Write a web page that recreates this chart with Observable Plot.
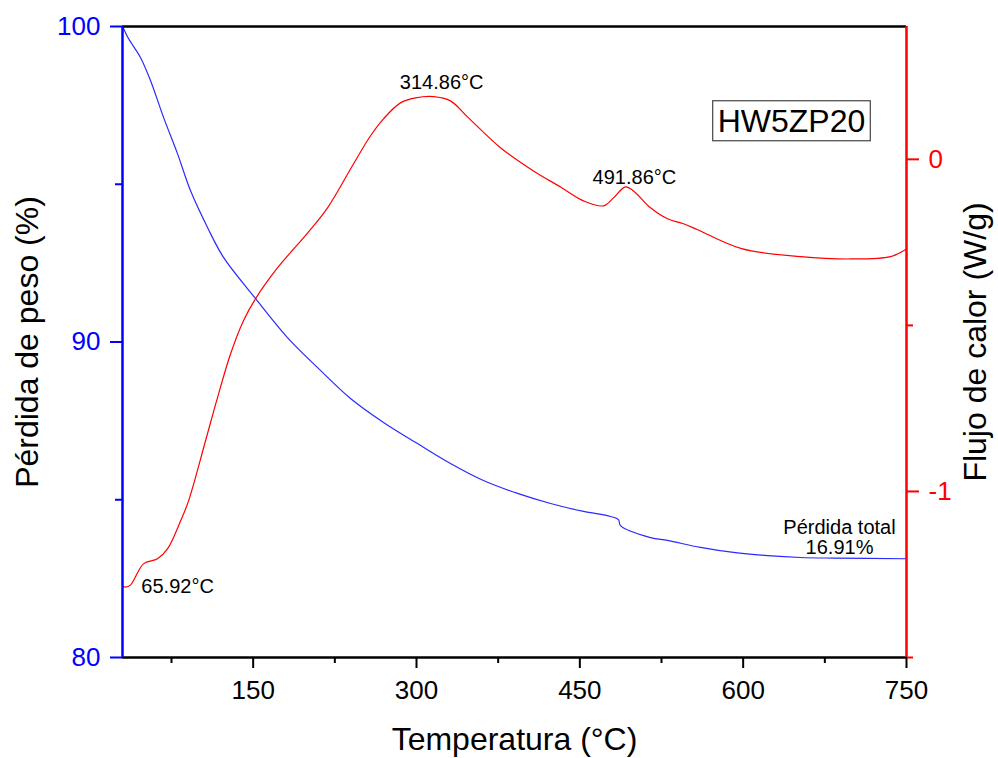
<!DOCTYPE html>
<html><head><meta charset="utf-8">
<script src="https://cdn.jsdelivr.net/npm/d3@7"></script>
<script src="https://cdn.jsdelivr.net/npm/@observablehq/plot@0.6"></script>
<style>
body{margin:0;background:#fff;font-family:"Liberation Sans",Arial,sans-serif;}
#chart{position:relative;width:998px;height:758px;}
</style></head><body><div id="chart"></div>
<script>
// TGA: weight (%) vs temperature (°C)
const tgaTemp = [30, 30.9, 35.5, 46.5, 55.7, 67.7, 80.5, 92.4, 108.1, 122.8, 152.1, 181.5, 211.8, 239.4, 269.7, 300.9, 331.2, 361.5, 392.8, 423.1, 453.4, 478.2, 485.5, 487.3, 514.9, 530.5, 560.8, 591.1, 622.3, 652.7, 683, 750];
const tgaWeight = [100, 99.94, 99.62, 99.02, 98.29, 97.12, 95.97, 94.80, 93.63, 92.68, 91.38, 90.14, 89.10, 88.21, 87.45, 86.78, 86.15, 85.61, 85.20, 84.88, 84.63, 84.47, 84.37, 84.18, 83.80, 83.71, 83.49, 83.33, 83.23, 83.17, 83.15, 83.13];
// DSC: heat flow (W/g) vs temperature (°C)
const dscTemp = [30, 32.8, 37.3, 49.3, 62.1, 71.3, 83.3, 90.6, 106.2, 117.2, 129.2, 141.1, 152.1, 172.3, 199.9, 218.3, 242.1, 257.8, 269.7, 285.3, 299.1, 315.6, 331.2, 346.8, 377.1, 407.4, 432.2, 453.4, 471.7, 480.9, 491.9, 499.3, 514.9, 530.5, 545.2, 558.1, 598.5, 652.7, 698.6, 735.3, 750];
const dscFlow = [-1.285, -1.288, -1.282, -1.218, -1.203, -1.173, -1.089, -1.029, -0.848, -0.718, -0.586, -0.486, -0.420, -0.327, -0.222, -0.146, -0.014, 0.071, 0.122, 0.170, 0.185, 0.189, 0.176, 0.128, 0.035, -0.035, -0.083, -0.125, -0.140, -0.116, -0.083, -0.095, -0.146, -0.179, -0.194, -0.212, -0.269, -0.293, -0.300, -0.293, -0.270];

// Axis domains and ticks
const tempDomain = [30, 750];
const weightDomain = [80, 100];
const flowDomain = [-1.5, 0.4];
const tempTicks = [150, 300, 450, 600, 750];
const tempMinorTicks = [75, 225, 375, 525, 675];
const weightTicks = [80, 90, 100];
const weightMinorTicks = [85, 95];
const flowTicks = [-1, 0];
const flowMinorTicks = [-1.5, -0.5];

// Annotations (data coordinates)
const peakLabels = ["314.86°C", "491.86°C", "65.92°C"];
const peakTemps = [314.86, 491.86, 65.92];
const peakFlows = [0.189, -0.083, -1.288];
const sampleName = "HW5ZP20";
const lossLabel = "Pérdida total\n16.91%";

// map heat flow onto the weight scale (secondary axis)
const toW = h => weightDomain[0] + (h - flowDomain[0]) / (flowDomain[1] - flowDomain[0]) * (weightDomain[1] - weightDomain[0]);
const fromW = w => flowDomain[0] + (w - weightDomain[0]) / (weightDomain[1] - weightDomain[0]) * (flowDomain[1] - flowDomain[0]);

const tga = tgaTemp.map((t, i) => ({t, w: tgaWeight[i]}));
const dsc = dscTemp.map((t, i) => ({t, w: toW(dscFlow[i])}));
const peaks = peakLabels.map((label, i) => ({label, t: peakTemps[i], w: toW(peakFlows[i])}));

const BLUE = "#0000ff", RED = "#ff0000";
const fmtFlow = w => { const h = Math.round(fromW(w) * 10) / 10; return h === 0 ? "0" : String(h); };

const svg = Plot.plot({
  width: 998, height: 758,
  marginLeft: 122, marginRight: 92, marginTop: 26, marginBottom: 101,
  style: {fontFamily: "'Liberation Sans', Arial, sans-serif", fontSize: "26px", background: "#fff", overflow: "visible"},
  x: {domain: tempDomain},
  y: {domain: weightDomain},
  marks: [
    Plot.line(tga, {x: "t", y: "w", stroke: "#2a2aff", strokeWidth: 1.2, curve: "catmull-rom"}),
    Plot.line(dsc, {x: "t", y: "w", stroke: RED, strokeWidth: 1.2, curve: "catmull-rom"}),
    // x axis
    Plot.axisX({ticks: tempTicks, tickSize: 11, tickPadding: 12, strokeWidth: 2, color: "black", label: null, fontSize: 26}),
    Plot.axisX({ticks: tempMinorTicks, tickSize: 6, tickFormat: () => "", strokeWidth: 2, color: "black", label: null}),
    // left axis
    Plot.axisY({ticks: weightTicks, tickSize: 12, tickPadding: 10, strokeWidth: 2, color: BLUE, label: null, fontSize: 26}),
    Plot.axisY({ticks: weightMinorTicks, tickSize: 7, tickFormat: () => "", strokeWidth: 2, color: BLUE, label: null}),
    // right axis
    Plot.axisY({anchor: "right", ticks: flowTicks.map(toW), tickFormat: fmtFlow, tickSize: 12, tickPadding: 10, strokeWidth: 2, color: RED, label: null, fontSize: 26}),
    Plot.axisY({anchor: "right", ticks: flowMinorTicks.map(toW), tickFormat: () => "", tickSize: 6, strokeWidth: 2, color: RED, label: null}),
    // frame lines
    Plot.ruleY([weightDomain[1]], {stroke: "black", strokeWidth: 2.5}),
    Plot.ruleY([weightDomain[0]], {stroke: "black", strokeWidth: 2.5}),
    Plot.ruleX([tempDomain[0]], {stroke: BLUE, strokeWidth: 2.5}),
    Plot.ruleX([tempDomain[1]], {stroke: RED, strokeWidth: 2.5}),
    // axis titles
    Plot.text(["Temperatura (°C)"], {frameAnchor: "bottom", dy: 82, fontSize: 32, textAnchor: "middle", lineAnchor: "middle", fill: "black"}),
    Plot.text(["Pérdida de peso (%)"], {frameAnchor: "left", dx: -95, rotate: -90, fontSize: 32, textAnchor: "middle", lineAnchor: "middle", fill: "black"}),
    Plot.text(["Flujo de calor (W/g)"], {frameAnchor: "right", dx: 69, rotate: -90, fontSize: 32, textAnchor: "middle", lineAnchor: "middle", fill: "black"}),
    // annotations
    Plot.text([peaks[0]], {x: "t", y: "w", text: "label", dx: 9, dy: -14, fontSize: 20, fill: "black"}),
    Plot.text([peaks[1]], {x: "t", y: "w", text: "label", dx: 9, dy: -9, fontSize: 20, fill: "black"}),
    Plot.text([peaks[2]], {x: "t", y: "w", text: "label", dx: 16, dy: 0, fontSize: 20, fill: "black"}),
    Plot.text([{t: tgaTemp[tgaTemp.length - 1], w: tgaWeight[tgaWeight.length - 1]}], {x: "t", y: "w", text: () => lossLabel, dx: -67, dy: -5, lineAnchor: "bottom", lineHeight: 1.0, fontSize: 20, fill: "black"}),
    Plot.text([sampleName], {frameAnchor: "top-right", dx: -115, dy: 95, textAnchor: "middle", lineAnchor: "middle", fontSize: 32, fill: "black"})
  ]
});
document.getElementById("chart").appendChild(svg);

// box around the sample name
const label = d3.select(svg).selectAll("text").filter(function() { return this.textContent === sampleName; });
label.each(function() {
  const bb = this.getBBox();
  const g = this.parentNode;
  const rect = document.createElementNS("http://www.w3.org/2000/svg", "rect");
  rect.setAttribute("x", bb.x - 5);
  rect.setAttribute("y", bb.y - 2);
  rect.setAttribute("width", bb.width + 10);
  rect.setAttribute("height", bb.height + 4);
  rect.setAttribute("fill", "none");
  rect.setAttribute("stroke", "#444");
  rect.setAttribute("stroke-width", "1.2");
  if (this.getAttribute("transform")) rect.setAttribute("transform", this.getAttribute("transform"));
  g.insertBefore(rect, this);
});
</script>
</body></html>
